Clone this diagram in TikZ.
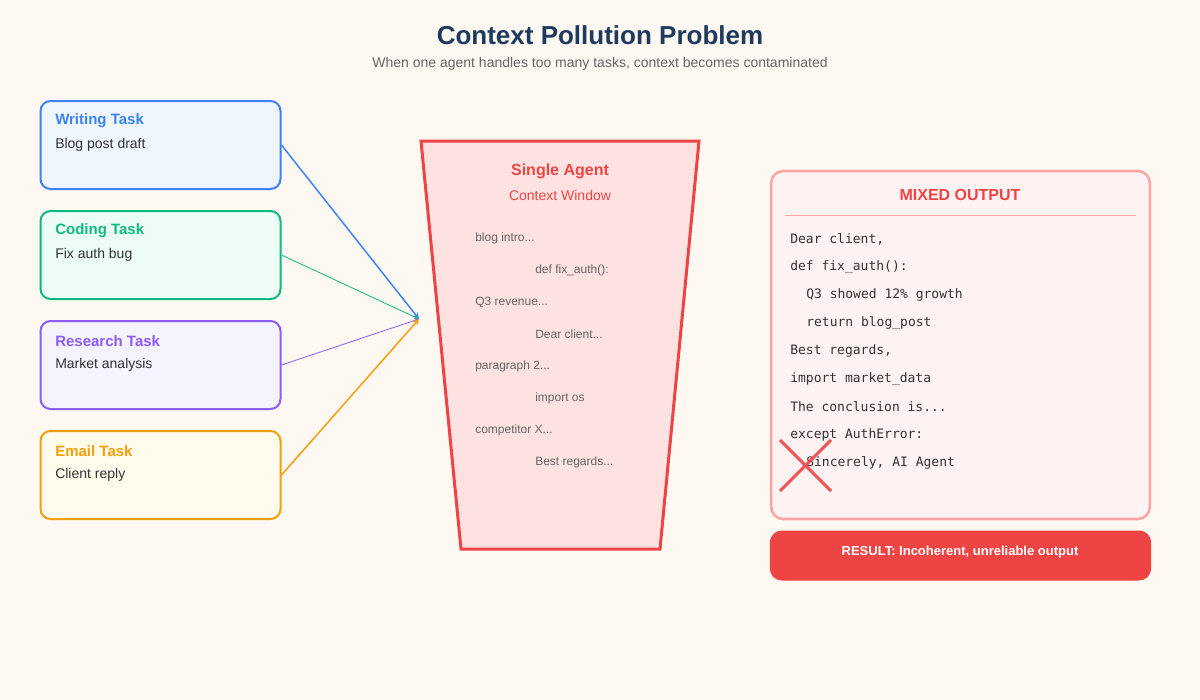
\documentclass[tikz,border=0pt]{standalone}
\usepackage{fontspec}
\setmainfont{Liberation Sans}
\setmonofont{DejaVu Sans Mono}
\usetikzlibrary{arrows,positioning}

\definecolor{bgcol}{HTML}{FDF8F1}
\definecolor{navy}{HTML}{1E3A5F}
\definecolor{greytxt}{HTML}{666666}
\definecolor{darktxt}{HTML}{333333}
\definecolor{redc}{HTML}{EF4444}
\definecolor{redfill}{HTML}{FEE2E2}
\definecolor{pinkc}{HTML}{FCA5A5}
\definecolor{pinkfill}{HTML}{FEF2F2}
\definecolor{bluec}{HTML}{3B82F6}
\definecolor{bluefill}{HTML}{EFF6FF}
\definecolor{greenc}{HTML}{10B981}
\definecolor{greenfill}{HTML}{ECFDF5}
\definecolor{purplec}{HTML}{8B5CF6}
\definecolor{purplefill}{HTML}{F5F3FF}
\definecolor{amberc}{HTML}{F59E0B}
\definecolor{amberfill}{HTML}{FFFBEB}

\begin{document}
\begin{tikzpicture}[x=0.75pt,y=-0.75pt,>=stealth,
	Task/.style={rectangle,rounded corners=7.5pt,line width=1.5pt,minimum width=180pt,minimum height=66pt,draw=#1c,fill=#1fill},
	TaskTitle/.style={anchor=west,inner sep=0pt,font=\fontsize{11.25}{13}\selectfont\bfseries,text=#1c},
	TaskText/.style={anchor=west,inner sep=0pt,font=\fontsize{10.5}{12}\selectfont,text=darktxt},
	Edge/.style={->,draw=#1c},
	Ctx/.style={anchor=west,inner sep=0pt,font=\fontsize{9}{11}\selectfont,text=greytxt},
	Code/.style={anchor=west,inner sep=0pt,font=\fontsize{9.75}{11}\selectfont\ttfamily,text=darktxt},
]
	\fill[bgcol] (0,0) rectangle (1200,700);
	\useasboundingbox (0,0) rectangle (1200,700);

	\node[font=\fontsize{19.5}{23}\selectfont\bfseries,text=navy] (title) at (600,35) {Context Pollution Problem};
	\node[font=\fontsize{10.5}{12}\selectfont,text=greytxt] (sub) at (600,64) {When one agent handles too many tasks, context becomes contaminated};

	\node[Task=blue] (W) at (160.5,145) {};
	\node[Task=green] (C) at (160.5,255) {};
	\node[Task=purple] (R) at (160.5,365) {};
	\node[Task=amber] (E) at (160.5,475) {};

	\node[TaskTitle=blue] (Wt) at (55,121) {Writing Task};
	\node[TaskText] (Wd) at (55,145) {Blog post draft};
	\node[TaskTitle=green] (Ct) at (55,231) {Coding Task};
	\node[TaskText] (Cd) at (55,255) {Fix auth bug};
	\node[TaskTitle=purple] (Rt) at (55,341) {Research Task};
	\node[TaskText] (Rd) at (55,365) {Market analysis};
	\node[TaskTitle=amber] (Et) at (55,451) {Email Task};
	\node[TaskText] (Ed) at (55,475) {Client reply};

	\draw[line width=2.25pt,draw=redc,fill=redfill] (421,141) coordinate (tl) -- (699,141) coordinate (tr)
		-- (660,549) coordinate (br) -- (461,549) coordinate (bl) -- cycle;
	\coordinate (in) at (419,319);

	\node[font=\fontsize{12}{14}\selectfont\bfseries,text=redc] (agent) at (560,171) {Single Agent};
	\node[font=\fontsize{10.5}{12}\selectfont,text=redc] (win) at (560,195) {Context Window};

	\node[Ctx] (c1) at (475,238) {blog intro...};
	\node[Ctx] (c2) at (535,270) {def fix\_auth():};
	\node[Ctx] (c3) at (475,302) {Q3 revenue...};
	\node[Ctx] (c4) at (535,334) {Dear client...};
	\node[Ctx] (c5) at (475,366) {paragraph 2...};
	\node[Ctx] (c6) at (535,398) {import os};
	\node[Ctx] (c7) at (475,430) {competitor X...};
	\node[Ctx] (c8) at (535,462) {Best regards...};

	\draw[Edge=blue,line width=1.1pt] (W.east) -- (in);
	\draw[Edge=green,line width=0.6pt] (C.east) -- (in);
	\draw[Edge=purple,line width=0.6pt] (R.east) -- (in);
	\draw[Edge=amber,line width=1.1pt] (E.east) -- (in);

	\node[rectangle,rounded corners=9pt,line width=1.9pt,draw=pinkc,fill=pinkfill,minimum width=284pt,minimum height=261pt] (out) at (960.5,345) {};
	\node[font=\fontsize{12}{14}\selectfont\bfseries,text=redc] (mix) at (960,195) {MIXED OUTPUT};
	\draw[pinkc,line width=0.75pt] (785,215) -- (1136,215);

	\node[Code] (o1) at (790,239) {Dear client,};
	\node[Code] (o2) at (790,267) {def fix\_auth():};
	\node[Code] (o3) at (806,295) {Q3 showed 12\% growth};
	\node[Code] (o4) at (806,323) {return blog\_post};
	\node[Code] (o5) at (790,351) {Best regards,};
	\node[Code] (o6) at (790,379) {import market\_data};
	\node[Code] (o7) at (790,407) {The conclusion is...};
	\node[Code] (o8) at (790,435) {except AuthError:};
	\node[Code] (o9) at (806,463) {Sincerely, AI Agent};

	\draw[redc,line width=2.25pt,opacity=0.9] (780,440) -- (831,491) (780,491) -- (831,440);

	\node[rectangle,rounded corners=9pt,fill=redc,minimum width=286pt,minimum height=37.5pt] (res) at (960.5,555.5) {};
	\node[font=\fontsize{9.75}{12}\selectfont\bfseries,text=white] (rest) at (960,552) {RESULT: Incoherent, unreliable output};
\end{tikzpicture}
\end{document}
